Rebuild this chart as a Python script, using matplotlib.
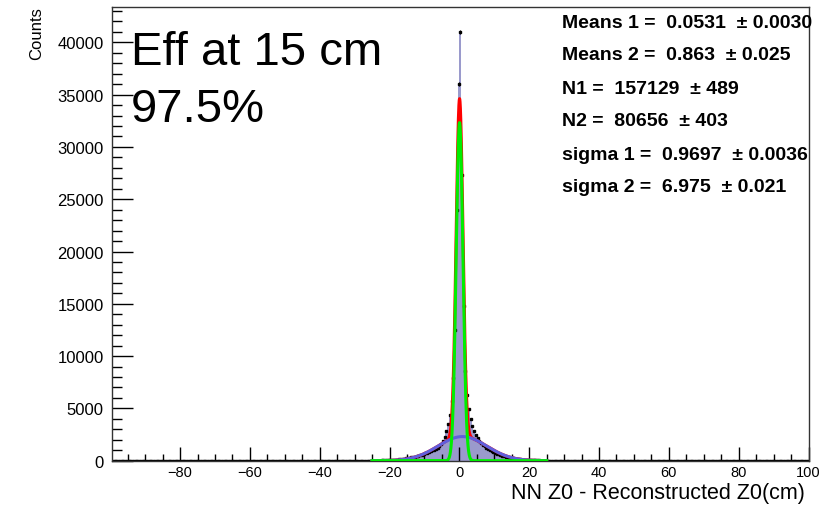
import numpy as np
import matplotlib
matplotlib.use("Agg")
from matplotlib import pyplot as plt
from matplotlib.ticker import MultipleLocator

plt.rcParams['font.family'] = ['Liberation Sans', 'DejaVu Sans']

# histogram: 0.5 cm bins, central window -25..25 cm
bin_width = 0.5
centre_lo, centre_hi = -25.0, 25.0
centre_counts = [
    8, 10, 12, 15, 18, 22, 27, 33, 40, 48,
    57, 68, 80, 94, 110, 125, 145, 165, 190, 215,
    245, 275, 310, 350, 390, 435, 480, 530, 585, 640,
    700, 760, 830, 900, 980, 1060, 1150, 1260, 1400, 1580,
    1850, 2250, 2800, 3500, 4400, 5700,
    7900, 12500, 24000, 36000,
    41000, 27300, 14800, 8600, 6300, 4900, 4000, 3300, 2800, 2450,
    2150, 1900, 1700, 1520, 1380, 1250, 1130, 1020, 920, 830,
    750, 670, 600, 540, 480, 425, 375, 330, 290, 255,
    225, 195, 170, 148, 128, 110, 95, 82, 70, 60,
    51, 43, 36, 30, 25, 21, 17, 14, 12, 10,
]
tail_count = 5  # bins outside the window look empty

# fit results from the stats box
mean1, mean2 = 0.0531, 0.863
n1, n2 = 157129, 80656
sigma1, sigma2 = 0.9697, 6.975
fit_lo, fit_hi = -25, 25

stats_lines = [
    "Means 1 =  0.0531  \u00b1 0.0030",
    "Means 2 =  0.863  \u00b1 0.025",
    "N1 =  157129  \u00b1 489",
    "N2 =  80656  \u00b1 403",
    "sigma 1 =  0.9697  \u00b1 0.0036",
    "sigma 2 =  6.975  \u00b1 0.021",
]

edges = np.arange(-100, 100 + bin_width / 2, bin_width)
centres = edges[:-1] + bin_width / 2
counts = np.full(len(centres), float(tail_count))
i0 = int(round((centre_lo + 100) / bin_width))
counts[i0:i0 + len(centre_counts)] = centre_counts


def gaus(x, n, m, s):
    return n * bin_width / (np.sqrt(2 * np.pi) * s) * np.exp(-(x - m) ** 2 / (2 * s ** 2))


fig = plt.figure(figsize=(8.31, 5.06), dpi=100)
ax = fig.add_axes([112 / 831, 1 - 461.7 / 506, (808.5 - 112) / 831, (461.7 - 8.3) / 506])

ax.stairs(counts, edges, fill=True, color='#9a9acc', zorder=1)
ax.errorbar(centres, counts, yerr=np.sqrt(counts), fmt='s', ms=1.8, color='black',
            elinewidth=0.7, capsize=0, zorder=2)

xf = np.linspace(fit_lo, fit_hi, 2000)
g1 = gaus(xf, n1, mean1, sigma1)
g2 = gaus(xf, n2, mean2, sigma2)
ax.plot(xf, g1 + g2, color='#ff0000', lw=2.2, zorder=3)
ax.plot(xf, g2, color='#5f5fdd', lw=2.2, zorder=4)
ax.plot(xf, g1, color='#00ee00', lw=2.2, zorder=5)

ax.set_xlim(-99.5, 100)
ax.set_ylim(0, 43350)
ax.set_xticks([-80, -60, -40, -20, 0, 20, 40, 60, 80, 100])
ax.xaxis.set_minor_locator(MultipleLocator(5))
ax.yaxis.set_major_locator(MultipleLocator(5000))
ax.yaxis.set_minor_locator(MultipleLocator(1000))
ax.tick_params(axis='x', which='major', direction='in', length=10, width=1, labelsize=10.5, pad=3)
ax.tick_params(axis='x', which='minor', direction='in', length=5, width=1)
ax.tick_params(axis='y', which='major', direction='in', length=15, width=1, labelsize=12, pad=6)
ax.tick_params(axis='y', which='minor', direction='in', length=7, width=1)
for sp in ax.spines.values():
    sp.set_linewidth(1)
    sp.set_color('#333333')

fig.text(37 / 831, 1 - 34 / 506, "Counts", rotation=90, ha='center', va='center', fontsize=12)
fig.text(805 / 831, 1 - 494 / 506, "NN Z0 - Reconstructed Z0(cm)", ha='right', va='center', fontsize=15.5)

fig.text(131 / 831, 1 - 65 / 506, "Eff at 15 cm", fontsize=34, va='baseline')
fig.text(131 / 831, 1 - 121.7 / 506, "97.5%", fontsize=34, va='baseline')

for k, line in enumerate(stats_lines):
    fig.text(562 / 831, 1 - (23 + 33 * k) / 506, line, fontsize=14, fontweight='bold',
             va='center', ha='left')

fig.savefig("out.png", dpi=100)
